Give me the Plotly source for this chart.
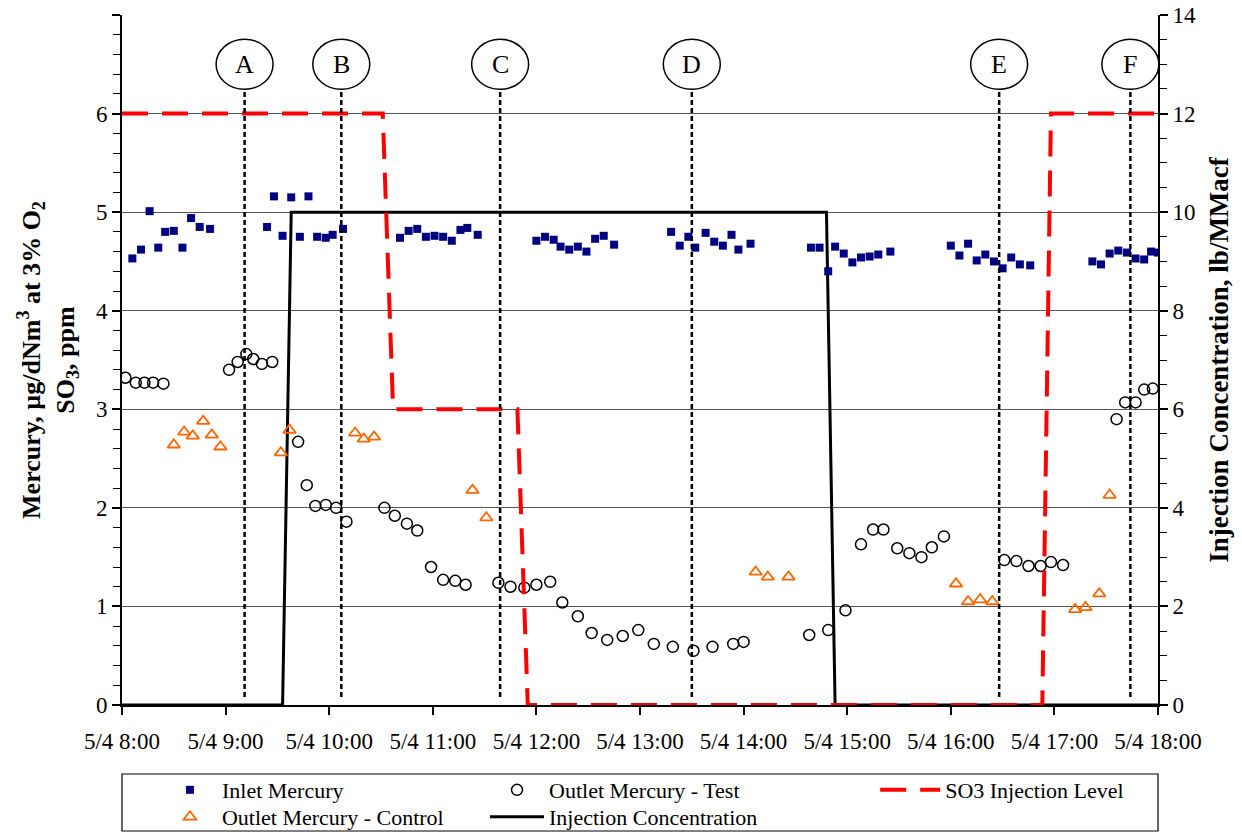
import plotly.graph_objects as go
import pandas as pd

DAY = "2005-05-04"

inlet_time = ["8:06","8:11","8:16","8:21","8:25","8:30","8:35","8:40","8:45","8:51",
              "9:24","9:28","9:33","9:38","9:43","9:48","9:53","9:58","10:02","10:08",
              "10:41","10:46","10:51","10:56","11:01","11:06","11:11","11:16","11:20","11:26",
              "12:00","12:05","12:10","12:14","12:19","12:24","12:29","12:34","12:39","12:45",
              "13:18","13:23","13:28","13:32","13:38","13:43","13:48","13:53","13:57","14:04",
              "14:39","14:44","14:49","14:53","14:58","15:03","15:08","15:13","15:18","15:25",
              "16:00","16:05","16:10","16:15","16:20","16:25","16:30","16:35","16:40","16:46",
              "17:22","17:27","17:32","17:37","17:42","17:47","17:52","17:56","18:00"]
inlet_hg = [4.53,4.62,5.01,4.64,4.80,4.81,4.64,4.94,4.85,4.83,
            4.85,5.16,4.76,5.15,4.75,5.16,4.75,4.74,4.77,4.83,
            4.74,4.81,4.83,4.75,4.76,4.75,4.71,4.82,4.84,4.77,
            4.71,4.75,4.72,4.65,4.62,4.65,4.60,4.73,4.76,4.67,
            4.80,4.66,4.75,4.64,4.79,4.70,4.66,4.77,4.62,4.68,
            4.64,4.64,4.40,4.65,4.58,4.49,4.54,4.55,4.57,4.60,
            4.66,4.56,4.68,4.51,4.57,4.50,4.43,4.54,4.47,4.46,
            4.50,4.47,4.58,4.61,4.59,4.53,4.52,4.60,4.59]

test_time = ["8:02","8:08","8:13","8:18","8:24","9:02","9:07","9:12","9:16","9:21","9:27",
             "9:42","9:47","9:52","9:58","10:04","10:10","10:32","10:38","10:45","10:51",
             "10:59","11:06","11:13","11:19","11:38","11:45","11:53","12:00","12:08","12:15",
             "12:24","12:32","12:41","12:50","12:59","13:08","13:19","13:31","13:42","13:54",
             "14:00","14:38","14:49","14:59","15:08","15:15","15:21","15:29","15:36","15:43",
             "15:49","15:56","16:31","16:38","16:45","16:52","16:58","17:05","17:36","17:41",
             "17:47","17:52","17:57"]
test_hg = [3.32,3.27,3.27,3.27,3.26,3.40,3.48,3.56,3.51,3.46,3.48,
           2.67,2.23,2.02,2.03,2.00,1.86,2.00,1.92,1.84,1.77,
           1.40,1.27,1.26,1.22,1.24,1.20,1.19,1.22,1.25,1.04,
           0.90,0.73,0.66,0.70,0.76,0.62,0.59,0.55,0.59,0.62,
           0.64,0.71,0.76,0.96,1.63,1.78,1.78,1.59,1.54,1.50,
           1.60,1.71,1.47,1.46,1.41,1.41,1.45,1.42,2.90,3.07,
           3.07,3.20,3.21]

control_time = ["8:30","8:36","8:41","8:47","8:52","8:57","9:32","9:37","10:15","10:20","10:26",
                "11:23","11:31","14:07","14:14","14:26","16:03","16:10","16:17","16:24",
                "17:12","17:18","17:26","17:32"]
control_hg = [2.64,2.77,2.73,2.88,2.74,2.62,2.56,2.79,2.76,2.70,2.72,
              2.18,1.90,1.35,1.30,1.30,1.23,1.05,1.07,1.05,
              0.97,0.99,1.13,2.13]

inj_time = ["8:00","9:33","9:38","14:48","14:53","18:00"]
inj_conc = [0, 0, 10, 10, 0, 0]

so3_time = ["8:00","10:31","10:37","11:49","11:55","16:53","16:58","18:00"]
so3_ppm = [6, 6, 3, 3, 0, 0, 6, 6]

event_labels = ["A", "B", "C", "D", "E", "F"]
event_time = ["9:11", "10:07", "11:39", "13:30", "16:28", "17:44"]

x_ticks = [f"{h}:00" for h in range(8, 19)]
x_ticktext = [f"5/4 {t}" for t in x_ticks]
left_ticks = [0, 1, 2, 3, 4, 5, 6, 7]
left_ticktext = ["0", "1", "2", "3", "4", "5", "6", ""]


def ts(t):
    return pd.Timestamp(f"{DAY} {t}")


def fmt(stamp):
    return stamp.strftime("%Y-%m-%d %H:%M:%S")


def tss(lst):
    return [fmt(ts(t)) for t in lst]


FONT = "Liberation Serif"
fig = go.Figure()

fig.add_trace(go.Scatter(
    x=tss(inj_time), y=inj_conc, yaxis="y2", mode="lines",
    name="Injection Concentration", legend="legend5", showlegend=True,
    line=dict(color="black", width=3)))

fig.add_trace(go.Scatter(
    x=tss(inlet_time), y=inlet_hg, yaxis="y", mode="markers",
    name="Inlet Mercury", legend="legend", showlegend=True,
    marker=dict(symbol="square", size=8, color="#000080",
                line=dict(width=0))))

fig.add_trace(go.Scatter(
    x=tss(test_time), y=test_hg, yaxis="y", mode="markers",
    name="Outlet Mercury - Test", legend="legend2", showlegend=True,
    marker=dict(symbol="circle-open", size=11, color="black",
                line=dict(width=1.5, color="black"))))

fig.add_trace(go.Scatter(
    x=tss(control_time), y=control_hg, yaxis="y", mode="markers",
    name="Outlet Mercury - Control", legend="legend4", showlegend=True,
    marker=dict(symbol="triangle-up-open", size=11, color="#FF6600",
                line=dict(width=1.8, color="#FF6600"))))

fig.add_trace(go.Scatter(
    x=tss(so3_time), y=so3_ppm, yaxis="y", mode="lines",
    name="SO3 Injection Level", legend="legend3", showlegend=True,
    line=dict(color="#FF0000", width=4, dash="26px,14px")))

shapes = []
annotations = []
half_w = pd.Timedelta(minutes=16.5)
for lab, t in zip(event_labels, event_time):
    c = ts(t)
    shapes.append(dict(type="line", xref="x", yref="y",
                       x0=fmt(c), x1=fmt(c), y0=0.08, y1=6.246,
                       line=dict(color="black", width=2.5, dash="5px,3px")))
    shapes.append(dict(type="circle", xref="x", yref="y",
                       x0=fmt(c - half_w), x1=fmt(c + half_w),
                       y0=6.5 - 0.254, y1=6.5 + 0.254,
                       fillcolor="white", line=dict(color="black", width=1.5)))
    annotations.append(dict(x=fmt(c), y=6.5, xref="x", yref="y",
                            text=lab, showarrow=False,
                            font=dict(family=FONT, size=26, color="black")))

# legend box
shapes.append(dict(type="rect", xref="paper", yref="paper",
                   x0=0, x1=1, y0=-0.1826, y1=-0.100,
                   line=dict(color="black", width=1.2), fillcolor="rgba(0,0,0,0)"))

legend_common = dict(orientation="v", bgcolor="rgba(0,0,0,0)", borderwidth=0,
                     font=dict(family=FONT, size=22, color="black"),
                     yanchor="middle", xanchor="left", tracegroupgap=0, visible=True)
ROW1, ROW2 = -0.1232, -0.1623
COL1, COL2, COL3 = 0.0347, 0.3504, 0.727

fig.update_layout(
    width=1242, height=832,
    showlegend=True,
    margin=dict(l=122, r=84, t=15, b=127, autoexpand=False),
    paper_bgcolor="white", plot_bgcolor="white",
    font=dict(family=FONT, color="black"),
    shapes=shapes, annotations=annotations,
    legend=dict(x=COL1, y=ROW1, itemwidth=54, **legend_common),
    legend2=dict(x=COL2, y=ROW1, itemwidth=54, **legend_common),
    legend3=dict(x=COL3, y=ROW1, itemwidth=60, **legend_common),
    legend4=dict(x=COL1, y=ROW2, itemwidth=54, **legend_common),
    legend5=dict(x=COL2, y=ROW2, itemwidth=54, **legend_common),
    xaxis=dict(
        type="date",
        range=[fmt(ts("8:00")), fmt(ts("18:00"))],
        tickvals=tss(x_ticks), ticktext=x_ticktext,
        ticks="outside", ticklen=8, tickwidth=1.5, tickcolor="black",
        showline=True, linecolor="black", linewidth=2,
        showgrid=False, zeroline=False,
        tickfont=dict(family=FONT, size=23, color="black"),
        ticklabelstandoff=6,
    ),
    yaxis=dict(
        range=[0, 7], overlaying="y2", side="left",
        tickvals=left_ticks, ticktext=left_ticktext,
        ticks="outside", ticklen=8, tickwidth=1.5, tickcolor="black",
        minor=dict(dtick=0.2, ticks="outside", ticklen=7, tickcolor="black", tickwidth=1, showgrid=False),
        showline=True, linecolor="black", linewidth=2,
        showgrid=True, gridcolor="#555555", gridwidth=1,
        zeroline=False,
        tickfont=dict(family=FONT, size=23, color="black"),
        title=dict(text="Mercury, µg/dNm<sup>3</sup> at 3% O<sub>2</sub><br>SO<sub>3</sub>, ppm",
                   font=dict(family=FONT, size=26, color="black", weight="bold"), standoff=14),
    ),
    yaxis2=dict(
        range=[0, 14], side="right", anchor="x",
        dtick=2, tick0=0,
        ticks="outside", ticklen=8, tickwidth=1.5, tickcolor="black",
        minor=dict(dtick=0.5, ticks="outside", ticklen=7, tickcolor="black", tickwidth=1, showgrid=False),
        showline=True, linecolor="black", linewidth=2,
        showgrid=False, zeroline=False,
        tickfont=dict(family=FONT, size=23, color="black"),
        title=dict(text="Injection Concentration, lb/MMacf",
                   font=dict(family=FONT, size=27, color="black", weight="bold"), standoff=14),
    ),
)

fig.write_html("out.html")
